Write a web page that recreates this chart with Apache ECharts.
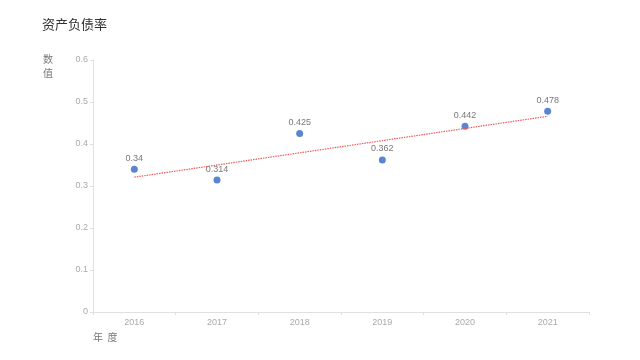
<!DOCTYPE html>
<html><head><meta charset="utf-8">
<script src="https://cdn.jsdelivr.net/npm/echarts@6/dist/echarts.min.js"></script>
<style>html,body{margin:0;padding:0;background:#fff}#c{width:640px;height:360px}</style>
</head><body><div id="c"></div>
<script>
var years = ['2016','2017','2018','2019','2020','2021'];
var ratio = [0.34, 0.314, 0.425, 0.362, 0.442, 0.478];
var trend = [0.321, null, null, null, null, 0.466];
var yTicks = [0, 0.1, 0.2, 0.3, 0.4, 0.5, 0.6];
var yName = '数\n值';
var xName = '年  度';

var chart = echarts.init(document.getElementById('c'));
chart.setOption({
  animation: false,
  textStyle: { fontFamily: '"Liberation Sans", "Noto Sans CJK SC", sans-serif' },
  title: { text: '资产负债率', left: 37, top: 13,
    textStyle: { fontSize: 13, fontWeight: 'normal', color: '#333', fontFamily: '"Noto Sans CJK SC", sans-serif' } },
  graphic: [{
    type: 'text', left: 43, top: 52,
    style: { text: yName, fill: '#777', fontSize: 10, lineHeight: 14, fontFamily: '"Noto Sans CJK SC", sans-serif' }
  }],
  grid: { left: 93, right: 51, top: 60, bottom: 48 },
  xAxis: {
    type: 'category', data: years, boundaryGap: true,
    name: xName, nameLocation: 'start', nameGap: 0,
    nameTextStyle: { align: 'left', verticalAlign: 'top', padding: [20, 0, 0, 0], color: '#777', fontSize: 10, fontFamily: '"Noto Sans CJK SC", sans-serif' },
    axisLine: { lineStyle: { color: '#e0e0e0' } },
    axisTick: { show: true, length: 3, lineStyle: { color: '#e0e0e0' } },
    axisLabel: { color: '#aaa', fontSize: 9, margin: 6 }
  },
  yAxis: {
    type: 'value', min: yTicks[0], max: yTicks[yTicks.length - 1], interval: 0.1,
    axisLine: { show: true, lineStyle: { color: '#e0e0e0' } },
    axisTick: { show: true, length: 3, lineStyle: { color: '#e0e0e0' } },
    splitLine: { show: false },
    axisLabel: { color: '#aaa', fontSize: 9, margin: 5 }
  },
  series: [
    { type: 'scatter', data: ratio, symbolSize: 7, itemStyle: { color: '#3266c4' },
      label: { show: true, position: 'top', distance: 3, color: '#555', fontSize: 9 } },
    { type: 'line', data: trend, connectNulls: true, symbol: 'none', silent: true,
      lineStyle: { color: '#f05a5a', width: 1.2, type: [1.5, 1] } }
  ]
});
</script></body></html>
